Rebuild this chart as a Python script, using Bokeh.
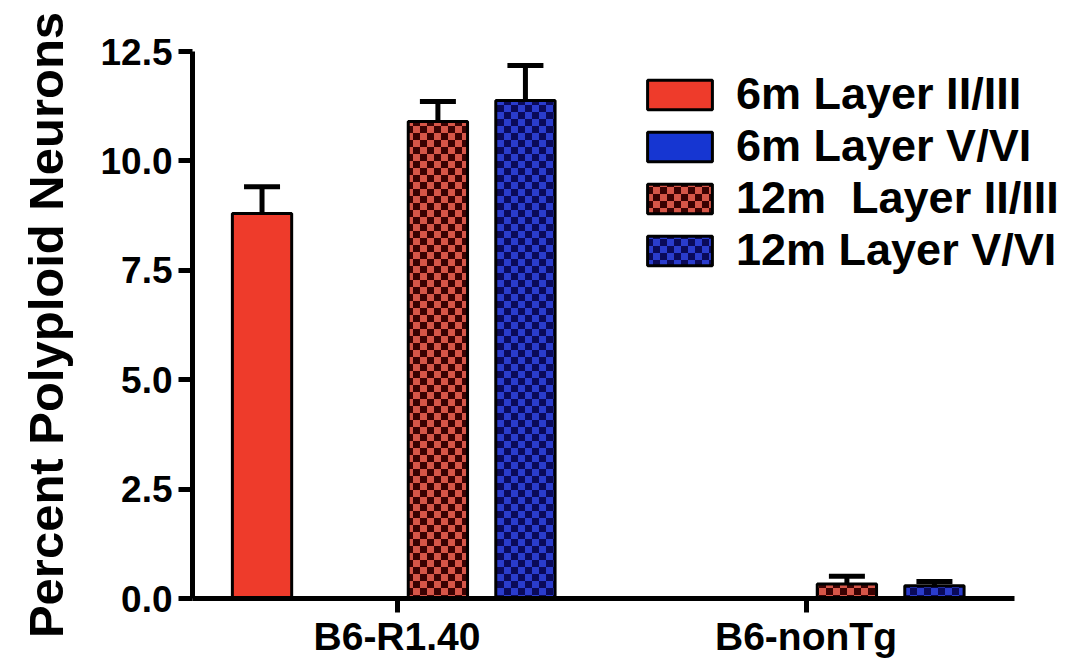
import zlib, struct, base64
from bokeh.plotting import figure
from bokeh.models import (Range1d, Legend, LegendItem, Whisker,
                          ColumnDataSource, ImageURLTexture, TeeHead, FixedTicker)
from bokeh.transform import dodge
from bokeh.embed import file_html
from bokeh.resources import INLINE

# ---------------- data ----------------
groups = ["B6-R1.40", "B6-nonTg"]
series = ["6m Layer II/III", "6m Layer V/VI", "12m  Layer II/III", "12m Layer V/VI"]
m6_l23 = [8.80, 0.0]
m6_l56 = [0.0, 0.0]
m12_l23 = [10.90, 0.33]
m12_l56 = [11.38, 0.29]
err_m6_l23 = [0.61, 0.0]
err_m6_l56 = [0.0, 0.0]
err_m12_l23 = [0.46, 0.18]
err_m12_l56 = [0.80, 0.10]
y_ticks = [0.0, 2.5, 5.0, 7.5, 10.0, 12.5]
y_tick_labels = ["0.0", "2.5", "5.0", "7.5", "10.0", "12.5"]
y_label = "Percent Polyploid Neurons"

values = [m6_l23, m6_l56, m12_l23, m12_l56]
errors = [err_m6_l23, err_m6_l56, err_m12_l23, err_m12_l56]

# category slots on the x scale (one unit per group)
group_x = [i + 0.5 for i in range(len(groups))]

# ---------------- style ----------------
FONT = "Liberation Sans"
offsets = [-0.33, -0.115, 0.100, 0.314]
fills = ["#ee3b2b", "#1636d2", "#dc5a4a", "#2a3cc8"]


def checker_png(c1, c2, n):
    size = 2 * n
    raw = b"".join(
        b"\x00" + b"".join(bytes(c1 if ((x // n + y // n) % 2 == 0) else c2) for x in range(size))
        for y in range(size))

    def chunk(t, d):
        return struct.pack(">I", len(d)) + t + d + struct.pack(">I", zlib.crc32(t + d) & 0xffffffff)

    png = (b"\x89PNG\r\n\x1a\n"
           + chunk(b"IHDR", struct.pack(">IIBBBBB", size, size, 8, 2, 0, 0, 0))
           + chunk(b"IDAT", zlib.compress(raw))
           + chunk(b"IEND", b""))
    return "data:image/png;base64," + base64.b64encode(png).decode()


hatch_kw = [
    None,
    None,
    dict(hatch_pattern=dict(value="chk_red"),
         hatch_extra={"chk_red": ImageURLTexture(url=checker_png((58, 2, 2), (214, 86, 72), 7))},
         hatch_alpha=1.0),
    dict(hatch_pattern=dict(value="chk_blue"),
         hatch_extra={"chk_blue": ImageURLTexture(url=checker_png((10, 10, 90), (42, 60, 205), 7))},
         hatch_alpha=1.0),
]

W, H = 1066, 662
LEFT, TOP, BOTTOM = 192, 51, 64
UNIT = 409  # px per group slot

p = figure(x_range=Range1d(0, (W - LEFT) / UNIT),
           y_range=Range1d(0, 12.5),
           width=W, height=H,
           output_backend="svg", toolbar_location=None,
           min_border_left=LEFT, min_border_right=0,
           min_border_top=TOP, min_border_bottom=BOTTOM)
p.outline_line_color = None
p.xgrid.visible = False
p.ygrid.visible = False
p.background_fill_color = "white"

renderers = []
for i in range(4):
    src = ColumnDataSource(dict(gx=group_x, top=values[i]))
    kw = dict(fill_color=fills[i], line_color="black", line_width=3)
    if hatch_kw[i] is not None:
        kw.update(hatch_kw[i])
    r = p.vbar(x=dodge("gx", offsets[i]), top="top",
               width=0.145, source=src, **kw)
    renderers.append(r)

    gx, lo, up = [], [], []
    for g, v, e in zip(group_x, values[i], errors[i]):
        if e > 0:
            gx.append(g); lo.append(v); up.append(v + e)
    if gx:
        wsrc = ColumnDataSource(dict(gx=gx, lower=lo, upper=up))
        w = Whisker(base=dodge("gx", offsets[i]),
                    lower="lower", upper="upper", source=wsrc,
                    dimension="height", line_width=5, line_color="black",
                    upper_head=TeeHead(size=36, line_width=5, line_color="black"),
                    lower_head=None)
        p.add_layout(w)

# axes
p.yaxis.ticker = FixedTicker(ticks=y_ticks)
p.yaxis.major_label_overrides = {t: l for t, l in zip(y_ticks, y_tick_labels)}
p.xaxis.ticker = FixedTicker(ticks=group_x)
p.xaxis.major_label_overrides = {x: g for x, g in zip(group_x, groups)}
p.xaxis.bounds = (0, 2.01)
for ax in (p.xaxis[0], p.yaxis[0]):
    ax.axis_line_width = 5
    ax.axis_line_color = "black"
    ax.major_tick_line_width = 5
    ax.major_tick_line_color = "black"
    ax.major_tick_out = 14
    ax.major_tick_in = 0
    ax.minor_tick_line_color = None
    ax.major_label_text_font = FONT
    ax.major_label_text_font_style = "bold"
    ax.major_label_text_color = "black"

p.yaxis.major_label_text_font_size = "37px"
p.yaxis.major_label_standoff = 6
p.yaxis.axis_label = y_label
p.yaxis.axis_label_text_font = FONT
p.yaxis.axis_label_text_font_style = "bold"
p.yaxis.axis_label_text_font_size = "49px"
p.yaxis.axis_label_text_color = "black"
p.yaxis.axis_label_standoff = 24

p.xaxis.major_label_text_font_size = "39px"
p.xaxis.major_label_standoff = 2
p.xaxis.major_label_text_line_height = 0.9
p.xaxis.axis_label = None
p.xaxis.axis_label_standoff = 0

legend = Legend(items=[LegendItem(label=series[i], renderers=[renderers[i]]) for i in range(4)],
                location=(447, 322),
                glyph_width=81, glyph_height=37, label_height=37,
                label_standoff=16, spacing=0, padding=0, margin=0,
                label_text_font=FONT, label_text_font_style="bold",
                label_text_font_size="45px", label_text_line_height=0.9,
                label_text_color="black",
                border_line_color=None, background_fill_alpha=0)
p.add_layout(legend)

open("out.html", "w").write(file_html(p, INLINE))
